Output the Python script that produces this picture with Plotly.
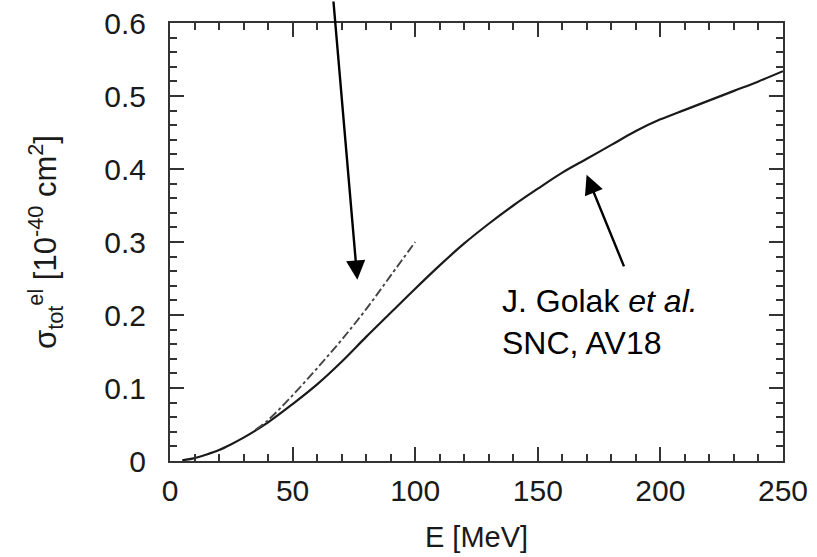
import plotly.graph_objects as go

# Solid curve: J. Golak et al., SNC, AV18
energy_solid = [5, 10, 15, 20, 25, 30, 40, 50, 60, 70, 80, 90, 100, 110, 120, 130,
                140, 150, 160, 170, 180, 190, 200, 210, 220, 230, 240, 250]
sigma_solid = [0.001, 0.004, 0.009, 0.015, 0.023, 0.032, 0.053, 0.078, 0.105, 0.136,
               0.170, 0.203, 0.236, 0.268, 0.298, 0.325, 0.350, 0.373, 0.395, 0.414,
               0.433, 0.452, 0.468, 0.481, 0.494, 0.507, 0.520, 0.534]

# Dash-dot curve
energy_dd = [35, 40, 50, 60, 70, 80, 90, 100]
sigma_dd = [0.043, 0.056, 0.090, 0.127, 0.166, 0.208, 0.254, 0.300]

x_ticks = [0, 50, 100, 150, 200, 250]
y_ticks = [0, 0.1, 0.2, 0.3, 0.4, 0.5, 0.6]
y_tick_text = ["0", "0.1", "0.2", "0.3", "0.4", "0.5", "0.6"]

FONT = "Liberation Sans, Arial, sans-serif"
AX = "#333333"

fig = go.Figure()
fig.add_trace(go.Scatter(x=energy_solid, y=sigma_solid, mode="lines",
                         line=dict(color="#1a1a1a", width=2.2, shape="spline"),
                         showlegend=False, hoverinfo="skip"))
fig.add_trace(go.Scatter(x=energy_dd, y=sigma_dd, mode="lines",
                         line=dict(color="#444444", width=1.9, dash="dashdot", shape="spline"),
                         showlegend=False, hoverinfo="skip"))

fig.update_layout(
    width=817, height=557,
    margin=dict(l=170, r=34, t=22.5, b=96.3, autoexpand=False),
    plot_bgcolor="white", paper_bgcolor="white",
    font=dict(family=FONT, size=30, color="#1a1a1a"),
    xaxis=dict(
        range=[0, 250], tickvals=x_ticks, ticks="inside", ticklen=14, tickwidth=2,
        tickcolor=AX, showline=True, linecolor=AX, linewidth=2, mirror="allticks",
        showgrid=False, zeroline=False, ticklabelstandoff=2,
        minor=dict(ticks="inside", ticklen=7, tickwidth=1.5, tickcolor=AX, dtick=10,
                   tick0=0, showgrid=False),
        title=dict(text="E [MeV]", font=dict(size=29), standoff=21),
    ),
    yaxis=dict(
        range=[0, 0.6], tickvals=y_ticks, ticktext=y_tick_text, ticks="inside",
        ticklen=14, tickwidth=2, tickcolor=AX, showline=True, linecolor=AX,
        linewidth=2, mirror="allticks", showgrid=False, zeroline=False,
        ticklabelstandoff=16,
        minor=dict(ticks="inside", ticklen=7, tickwidth=1.5, tickcolor=AX, dtick=0.02,
                   tick0=0, showgrid=False),
        title=dict(text="σ<sub>tot</sub><sup>el</sup> [10<sup>-40</sup> cm<sup>2</sup>]",
                   font=dict(size=31), standoff=38),
    ),
    annotations=[
        dict(x=76.4, y=0.2484, xref="x", yref="y", text="", showarrow=True,
             arrowhead=2, arrowsize=1.6, arrowwidth=2.4, arrowcolor="black",
             ax=-24, ay=-290, standoff=0),
        dict(x=169.9, y=0.392, xref="x", yref="y", text="", showarrow=True,
             arrowhead=2, arrowsize=1.6, arrowwidth=2.4, arrowcolor="black",
             ax=38, ay=93, standoff=0),
        dict(x=0.538, y=0.3165, xref="paper", yref="paper",
             text="J. Golak <i>et al.</i><br>SNC, AV18", showarrow=False,
             xanchor="left", yanchor="middle", align="left",
             font=dict(size=32, color="black", family=FONT)),
    ],
)

fig.write_html("out.html")
